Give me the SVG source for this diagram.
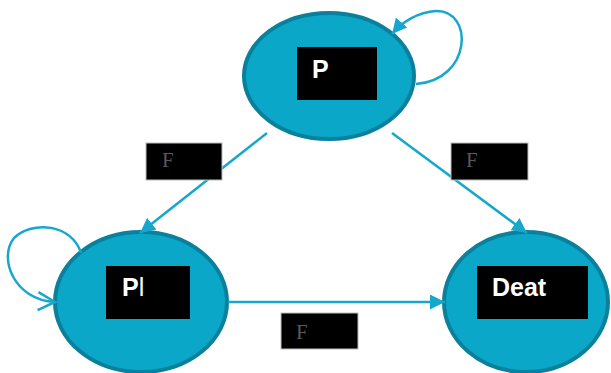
<svg xmlns="http://www.w3.org/2000/svg" width="611" height="373" viewBox="0 0 611 373">
  <style>
    .state { fill: #0aa7c9; stroke: #0a809c; stroke-width: 4; }
    .namebox { fill: #000; }
    .name { font-family: "Liberation Sans", Arial, sans-serif; font-weight: bold; font-size: 25px; fill: #fff; }
    .labelbox { fill: #000; stroke: #bdbdbd; stroke-width: 1; }
    .label { font-family: "Liberation Serif", "Times New Roman", serif; font-size: 21px; fill: #5a5a5a; }
    .edge { fill: none; stroke: #17a7cc; stroke-width: 2.5; }
  </style>
  <defs>
    <marker id="arrow" markerUnits="userSpaceOnUse" markerWidth="17" markerHeight="15" refX="15" refY="7.5" orient="auto">
      <path d="M0,0 L15,7.5 L0,15 Z" fill="#17a7cc"/>
    </marker>
    <marker id="open" markerUnits="userSpaceOnUse" markerWidth="20" markerHeight="22" refX="18" refY="11" orient="auto">
      <path d="M1,2 L18,11 L1,20" fill="none" stroke="#17a7cc" stroke-width="2.5"/>
    </marker>
  </defs>

  <rect width="611" height="373" fill="#fff"/>

  <g id="node-top">
    <ellipse class="state" cx="329" cy="76" rx="85" ry="63"/>
    <rect class="namebox" x="297" y="47" width="80" height="53"/>
    <text class="name" x="312" y="78">P</text>
  </g>

  <g id="node-left">
    <ellipse class="state" cx="141" cy="302" rx="86" ry="70"/>
    <rect class="namebox" x="106" y="266" width="84" height="53"/>
    <text class="name" x="122" y="296">P<tspan font-weight="normal">l</tspan></text>
  </g>

  <g id="node-right">
    <ellipse class="state" cx="526" cy="302" rx="82" ry="70"/>
    <rect class="namebox" x="477" y="266" width="111" height="53"/>
    <text class="name" x="492" y="296">Deat</text>
  </g>

  <g id="connectors">
    <path class="edge" d="M267,133 L140,233" marker-end="url(#arrow)"/>
    <path class="edge" d="M392,133 L527,233" marker-end="url(#arrow)"/>
    <path class="edge" d="M228,302 L445,302" marker-end="url(#arrow)"/>
    <path class="edge" d="M416,84 C472,80 474,10 436,11 C418,12 402,22 392,34" marker-end="url(#arrow)"/>
    <path class="edge" d="M81,253 C72,224 32,220 14,238 C-2,258 14,300 55,302" marker-end="url(#open)"/>
  </g>

  <g id="edge-labels">
    <rect class="labelbox" x="146" y="143" width="76" height="37"/>
    <text class="label" x="162" y="167">F</text>
    <rect class="labelbox" x="451" y="143" width="77" height="37"/>
    <text class="label" x="466" y="167">F</text>
    <rect class="labelbox" x="281" y="313" width="77" height="36"/>
    <text class="label" x="296" y="339">F</text>
  </g>
</svg>
